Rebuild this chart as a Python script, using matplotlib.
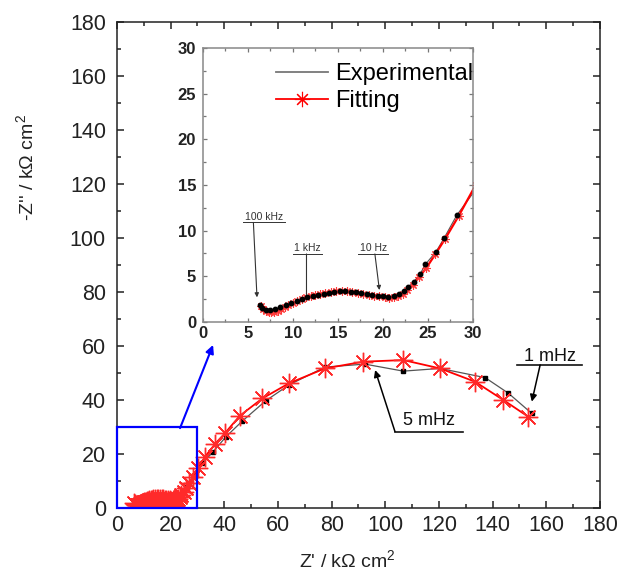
import matplotlib
matplotlib.use('Agg')
import matplotlib.pyplot as plt
from matplotlib.lines import Line2D
from matplotlib.patches import Rectangle
from matplotlib.ticker import MultipleLocator

plt.rcParams['font.family'] = ['Liberation Sans', 'DejaVu Sans']
plt.rcParams['mathtext.fontset'] = 'custom'
plt.rcParams['mathtext.rm'] = 'Liberation Sans'
plt.rcParams['mathtext.it'] = 'Liberation Sans:italic'

# Experimental data (Z', -Z'') in kOhm cm2, high -> low frequency
exp_x = [6.3, 6.6, 7.0, 7.5, 8.0, 8.6, 9.2, 9.8, 10.4, 11.0, 11.6, 12.2, 12.8, 13.4,
         14.0, 14.6, 15.2, 15.8, 16.4, 17.0, 17.6, 18.2, 18.8, 19.4, 20.0, 20.6, 21.2,
         21.8, 22.3, 22.8, 23.4, 24.1, 24.7, 25.9, 26.8, 28.2, 31.8, 35.9, 40.6, 46.7,
         55.4, 64.1, 77.5, 92.4, 106.7, 120.4, 137.2, 145.9, 154.5]
exp_y = [1.85, 1.55, 1.35, 1.3, 1.4, 1.6, 1.85, 2.05, 2.3, 2.5, 2.7, 2.85, 3.0, 3.1,
         3.2, 3.3, 3.35, 3.35, 3.3, 3.25, 3.15, 3.05, 2.95, 2.85, 2.8, 2.75, 2.85,
         3.05, 3.4, 3.8, 4.4, 5.2, 6.3, 7.7, 9.2, 11.7, 16.5, 20.9, 26.4, 32.2,
         39.7, 45.6, 52.2, 53.3, 50.7, 51.7, 48.3, 42.5, 35.1]

# Fitting data
fit_x = [6.4, 6.7, 7.0, 7.3, 7.6, 7.9, 8.3, 8.7, 9.1, 9.5, 10.0, 10.5, 11.0, 11.5,
         12.0, 12.5, 13.0, 13.6, 14.2, 14.8, 15.4, 16.0, 16.6, 17.2, 17.8, 18.4, 19.0,
         19.6, 20.2, 20.7, 21.2, 21.7, 22.2, 22.7, 23.3, 24.0, 24.8, 25.8, 26.9, 28.4,
         30.3, 32.8, 36.5, 40.3, 45.8, 54.2, 64.1, 77.5, 91.8, 106.7, 120.4, 133.4,
         144.0, 153.3]
fit_y = [1.7, 1.4, 1.2, 1.1, 1.05, 1.1, 1.25, 1.45, 1.65, 1.85, 2.1, 2.3, 2.5, 2.7,
         2.85, 3.0, 3.1, 3.2, 3.3, 3.35, 3.35, 3.35, 3.3, 3.2, 3.1, 3.0, 2.9,
         2.8, 2.7, 2.65, 2.7, 2.85, 3.1, 3.5, 4.1, 4.9, 5.9, 7.4, 9.1, 11.6,
         15.0, 19.0, 23.7, 27.8, 34.2, 40.6, 46.2, 51.7, 54.2, 54.8, 51.7, 46.8,
         40.0, 33.8]

main_ticks = list(range(0, 181, 20))
inset_ticks = list(range(0, 31, 5))

AST = (8, 2, 0)

fig = plt.figure(figsize=(6.24, 5.81), dpi=100)
ax = fig.add_axes([0.1875, 0.1256, 0.774, 0.8365])

ax.plot(exp_x, exp_y, color='#555555', lw=0.9, zorder=1)
ax.plot(exp_x, exp_y, ls='none', marker='s', ms=3.3, color='black', zorder=2)
ax.plot(fit_x, fit_y, color='red', lw=1.3, marker=AST, ms=14, mec='#ff2a2a',
        mew=1.0, zorder=3)

ax.set_xlim(0, 180)
ax.set_ylim(0, 180)
ax.set_xticks(main_ticks)
ax.set_yticks(main_ticks)
ax.xaxis.set_minor_locator(MultipleLocator(10))
ax.yaxis.set_minor_locator(MultipleLocator(10))
ax.tick_params(which='both', direction='in', top=True, right=True, width=1.1,
               labelsize=15.5, colors='#222222')
ax.tick_params(which='major', length=5)
ax.tick_params(which='minor', length=3)
ax.tick_params(axis='x', pad=5)
ax.tick_params(axis='y', pad=8)
for s in ax.spines.values():
    s.set_linewidth(1.1)
    s.set_color('#222222')

ax.set_xlabel("Z' / k\u03a9 cm$^2$", fontsize=14, color='#222222')
ax.set_ylabel("-Z'' / k\u03a9 cm$^2$", fontsize=14, color='#222222')
ax.xaxis.set_label_coords(0.476, -0.085)
ax.yaxis.set_label_coords(-0.165, 0.70)

# blue zoom box and arrow
ax.add_patch(Rectangle((0, 0), 30, 30, fill=False, ec='blue', lw=1.6,
                       clip_on=False, zorder=5))
ax.annotate('', xy=(35.8, 60.4), xytext=(23.5, 29.6),
            arrowprops=dict(arrowstyle='-|>', color='blue', lw=1.5,
                            mutation_scale=12, shrinkA=0, shrinkB=0))

# main annotations
ax.text(161.4, 56.0, '1 mHz', fontsize=13, ha='center', va='center', color='#111111')
ax.plot([149.0, 173.2], [53.0, 53.0], color='#111111', lw=1.2, clip_on=False)
ax.annotate('', xy=(154.6, 39.4), xytext=(157.7, 53.0),
            arrowprops=dict(arrowstyle='-|>', color='black', lw=1.1,
                            mutation_scale=10, shrinkA=0, shrinkB=0))
ax.text(116.3, 32.6, '5 mHz', fontsize=13, ha='center', va='center', color='#111111')
ax.plot([103.6, 129.1], [28.3, 28.3], color='#111111', lw=1.2)
ax.annotate('', xy=(96.2, 51.1), xytext=(103.6, 28.3),
            arrowprops=dict(arrowstyle='-|>', color='black', lw=1.1,
                            mutation_scale=10, shrinkA=0, shrinkB=0))

# inset
axi = fig.add_axes([0.3253, 0.4458, 0.4327, 0.4716])
axi.set_facecolor('white')
axi.plot(exp_x, exp_y, color='#555555', lw=0.8, zorder=1)
axi.plot(fit_x, fit_y, color='red', lw=1.6, marker=AST, ms=6, mec='#ff3a3a',
         mew=0.8, zorder=2)
axi.plot(exp_x, exp_y, ls='none', marker='o', ms=3.2, color='black', zorder=3)
axi.set_xlim(0, 30)
axi.set_ylim(0, 30)
axi.set_xticks(inset_ticks, labels=[str(t) for t in inset_ticks],
               fontweight='bold', fontsize=12)
axi.set_yticks(inset_ticks, labels=[str(t) for t in inset_ticks],
               fontweight='bold', fontsize=12)
axi.xaxis.set_minor_locator(MultipleLocator(2.5))
axi.yaxis.set_minor_locator(MultipleLocator(2.5))
axi.tick_params(which='both', direction='in', top=True, right=True, width=0.9,
                color='#777777', labelcolor='#222222')
axi.tick_params(which='major', length=3)
axi.tick_params(which='minor', length=2)
axi.tick_params(axis='x', pad=3)
axi.tick_params(axis='y', pad=5)
for s in axi.spines.values():
    s.set_linewidth(1.1)
    s.set_color('#888888')

# inset frequency labels
for txt, tx, ty, ux0, ux1, uy, ax0, ay0, ax1, ay1, head in [
        ('100 kHz', 6.8, 11.5, 4.5, 9.1, 10.9, 5.6, 10.9, 6.0, 2.7, True),
        ('1 kHz', 11.6, 8.1, 10.05, 13.2, 7.45, 11.5, 7.45, 11.5, 3.0, False),
        ('10 Hz', 18.9, 8.1, 17.25, 20.6, 7.45, 19.1, 7.45, 19.6, 3.5, True)]:
    axi.text(tx, ty, txt, fontsize=7.5, ha='center', va='center', color='#333333')
    axi.plot([ux0, ux1], [uy, uy], color='#333333', lw=0.7)
    axi.annotate('', xy=(ax1, ay1), xytext=(ax0, ay0),
                 arrowprops=dict(arrowstyle='-|>' if head else '-', color='#333333',
                                 lw=0.8, mutation_scale=6, shrinkA=0, shrinkB=0))

handles = [Line2D([], [], color='#777777', lw=1.3),
           Line2D([], [], color='red', lw=1.3, marker=AST, ms=11, mew=0.8)]
axi.legend(handles, ['Experimental', 'Fitting'], loc='upper left',
           bbox_to_anchor=(0.27, 0.945), frameon=False, fontsize=17,
           handlelength=2.2, handletextpad=0.3, labelspacing=0.2,
           borderpad=0, borderaxespad=0)

fig.savefig('out.png', dpi=100)
